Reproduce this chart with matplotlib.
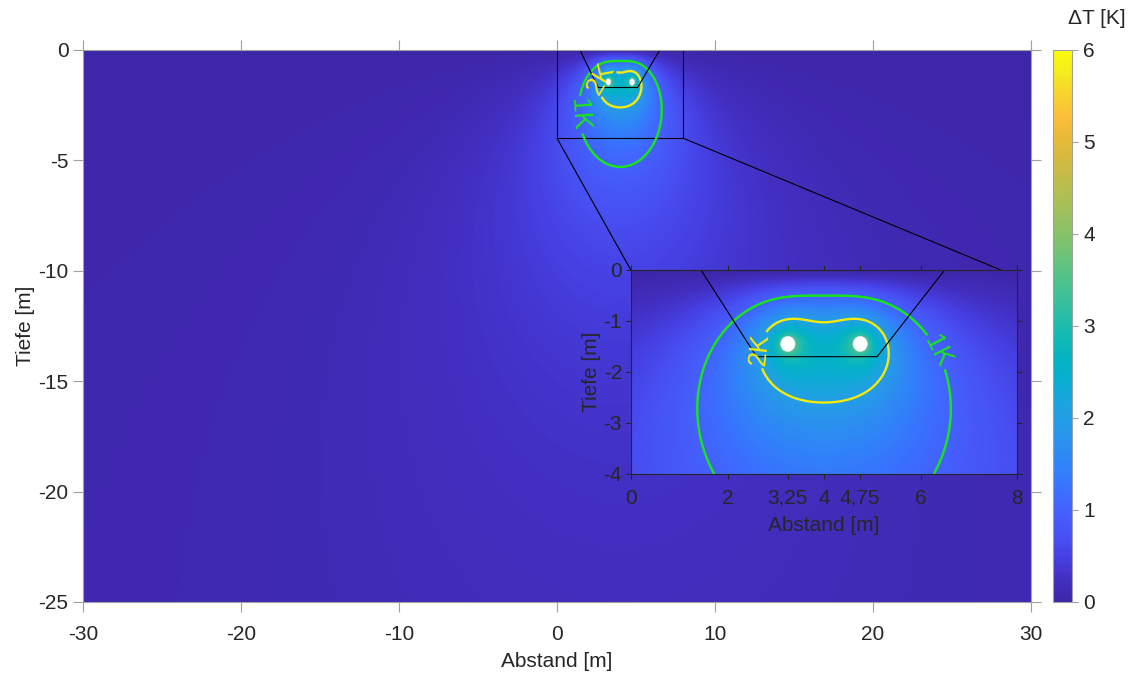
import numpy as np
import matplotlib
matplotlib.use('Agg')
import matplotlib.pyplot as plt
from matplotlib.colors import LinearSegmentedColormap
from matplotlib.patches import Circle, Rectangle

plt.rcParams['font.family'] = ['Liberation Sans', 'DejaVu Sans']
plt.rcParams['axes.unicode_minus'] = False

# cables
cable_x = [3.25, 4.75]
cable_depth = -1.45
cable_radius = 0.15
source_strength = 0.91   # K per cable, fitted to the 1K / 2K contours

# trench outline
trench_x = [1.45, 2.6, 5.1, 6.5]
trench_y = [0.0, -1.7, -1.7, 0.0]

contour_levels = [1, 2]
contour_colors = ['#19e619', '#f2ea0c']
contour_fmt = {1: '1K', 2: '2K'}

main_xticks = [-30, -20, -10, 0, 10, 20, 30]
main_yticks = [0, -5, -10, -15, -20, -25]
inset_xticks = [0, 2, 3.25, 4, 4.75, 6, 8]
inset_xlabels = ['0', '2', '3,25', '4', '4,75', '6', '8']
inset_yticks = [0, -1, -2, -3, -4]
cbar_ticks = [0, 1, 2, 3, 4, 5, 6]

# parula-like colormap
parula_pts = [
    (0.2422, 0.1504, 0.6603), (0.2594, 0.1854, 0.7610), (0.2760, 0.2500, 0.8900),
    (0.2810, 0.3228, 0.9579), (0.2692, 0.3733, 0.9892), (0.2253, 0.4424, 0.9968),
    (0.1905, 0.5090, 0.9778), (0.1707, 0.5598, 0.9404), (0.1453, 0.6056, 0.9063),
    (0.1093, 0.6457, 0.8715), (0.0346, 0.6808, 0.8207), (0.0165, 0.7053, 0.7638),
    (0.0742, 0.7248, 0.7093), (0.1637, 0.7397, 0.6542), (0.2560, 0.7548, 0.5896),
    (0.3474, 0.7637, 0.5195), (0.4603, 0.7642, 0.4474), (0.5628, 0.7580, 0.3923),
    (0.6579, 0.7486, 0.3483), (0.7448, 0.7387, 0.3054), (0.8256, 0.7296, 0.2603),
    (0.9070, 0.7273, 0.2160), (0.9853, 0.7465, 0.2282), (0.9697, 0.8187, 0.1852),
    (0.9592, 0.9283, 0.1159), (0.9763, 0.9831, 0.0538)]
parula = LinearSegmentedColormap.from_list('parula', parula_pts, N=256)

FS = 15
TXT = '#262626'


def delta_t(X, Y):
    # line sources with mirror sources above the surface
    T = np.zeros_like(X)
    for cx in cable_x:
        r = np.maximum(np.hypot(X - cx, Y - cable_depth), 0.05)
        ri = np.hypot(X - cx, Y + cable_depth)
        T += source_strength * np.log(ri / r)
    return T


def draw_field(ax, xlim, ylim, nx, ny, label_pos):
    xs = np.linspace(xlim[0], xlim[1], nx)
    ys = np.linspace(ylim[0], ylim[1], ny)
    X, Y = np.meshgrid(xs, ys)
    T = delta_t(X, Y)
    im = ax.imshow(T, extent=[xlim[0], xlim[1], ylim[0], ylim[1]], origin='lower',
                   cmap=parula, vmin=0, vmax=6, aspect='auto', interpolation='bilinear')
    cs = ax.contour(X, Y, T, levels=contour_levels, colors=contour_colors, linewidths=1.7)
    ax.clabel(cs, contour_levels, fmt=contour_fmt, manual=label_pos, inline=True,
              fontsize=19, inline_spacing=3)
    ax.plot(trench_x, trench_y, color='black', lw=0.8)
    for cx in cable_x:
        ax.add_patch(Circle((cx, cable_depth), cable_radius, facecolor='white',
                            edgecolor='#e0e0e0', lw=0.4, zorder=5))
    ax.set_xlim(xlim)
    ax.set_ylim(ylim)
    return im


fig = plt.figure(figsize=(11.37, 6.77), dpi=100)
ax = fig.add_axes([0.073, 0.1108, 0.8338, 0.8154])
im = draw_field(ax, (-30, 30), (-25, 0), 1500, 700, [(1.33, -2.94), (2.72, -1.27)])

ax.add_patch(Rectangle((0, -4), 8, 4, fill=False, edgecolor='black', lw=0.8))
ax.plot([0, 4.7], [-4, -10], color='black', lw=0.8)
ax.plot([8, 28.2], [-4, -10], color='black', lw=0.8)

ax.set_xticks(main_xticks)
ax.set_yticks(main_yticks)
ax.tick_params(direction='out', top=True, right=True, length=7.5, width=0.8,
               color='#a0a0a0', labelcolor=TXT, labelsize=FS)
ax.tick_params(axis='x', pad=9)
ax.tick_params(axis='y', pad=3)
for s in ax.spines.values():
    s.set_color('#a0a0a0')
    s.set_linewidth(0.8)
ax.set_xlabel('Abstand [m]', fontsize=FS, color=TXT, labelpad=6)
ax.set_ylabel('Tiefe [m]', fontsize=FS, color=TXT, labelpad=2)

# inset
axin = fig.add_axes([0.555, 0.2999, 0.3395, 0.3013])
draw_field(axin, (0, 8), (-4, 0), 800, 400, [(6.45, -1.55), (2.55, -1.55)])
axin.set_xticks(inset_xticks)
axin.set_xticklabels(inset_xlabels)
axin.set_yticks(inset_yticks)
axin.tick_params(direction='out', top=True, right=True, length=3.5, width=0.8,
                 color=TXT, labelcolor=TXT, labelsize=FS)
axin.tick_params(axis='x', pad=7)
axin.tick_params(axis='y', pad=3)
for s in axin.spines.values():
    s.set_color(TXT)
    s.set_linewidth(0.8)
axin.set_xlabel('Abstand [m]', fontsize=FS, color=TXT, labelpad=6)
axin.set_ylabel('Tiefe [m]', fontsize=FS, color=TXT, labelpad=2)

# colorbar
cax = fig.add_axes([0.9261, 0.1108, 0.0167, 0.8154])
cb = fig.colorbar(im, cax=cax, ticks=cbar_ticks)
cb.outline.set_edgecolor('#a0a0a0')
cb.outline.set_linewidth(0.8)
cax.tick_params(direction='out', length=4, width=0.8, color='#a0a0a0',
                labelcolor=TXT, labelsize=FS, pad=4)
fig.text(0.965, 0.973, '\u0394T [K]', ha='center', va='center', fontsize=FS, color=TXT)

fig.savefig('out.png', dpi=100)
